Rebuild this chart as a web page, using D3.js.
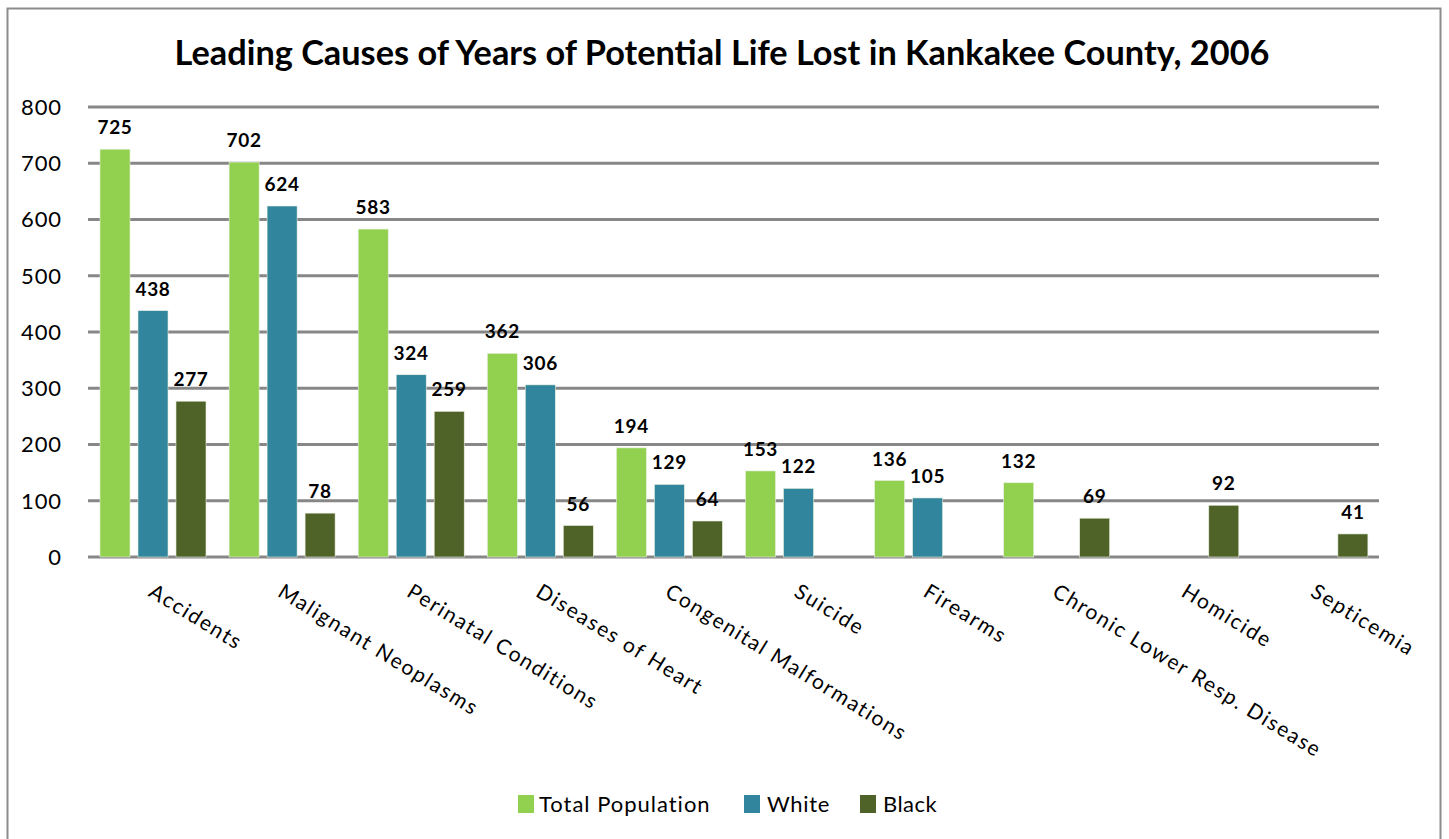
<!DOCTYPE html>
<html><head><meta charset="utf-8">
<script src="https://cdn.jsdelivr.net/npm/d3@7"></script>
<style>body{margin:0;background:#fff;} svg{display:block;}</style>
</head><body>
<svg id="c" width="1449" height="839"></svg>
<script>
const categories = ["Accidents","Malignant Neoplasms","Perinatal Conditions","Diseases of Heart","Congenital Malformations","Suicide","Firearms","Chronic Lower Resp. Disease","Homicide","Septicemia"];
const seriesNames = ["Total Population","White","Black"];
const totalValues = [725,702,583,362,194,153,136,132,null,null];
const whiteValues = [438,624,324,306,129,122,105,null,null,null];
const blackValues = [277,78,259,56,64,null,null,69,92,41];
const yTicks = [0,100,200,300,400,500,600,700,800];
const colors = ["#92D050","#31859C","#4F6228"];
const title = "Leading Causes of Years of Potential Life Lost in Kankakee County, 2006";

(function(){
const font = "Lato, 'Open Sans', sans-serif";
const svg = d3.select("#c");
svg.append("rect").attr("x",7.5).attr("y",8.5).attr("width",1433).attr("height",840).attr("fill","#fff").attr("stroke","#8c8c8c").attr("stroke-width",2);

const pL=88, pR=1379, pT=107, pB=557;
const x = d3.scaleBand().domain(categories).range([pL,pR]).paddingInner(0).paddingOuter(0);
const y = d3.scaleLinear().domain([0,800]).range([pB,pT]);
const sub = d3.scaleBand().domain(seriesNames).range([12,118]).paddingInner(0.21).paddingOuter(0);

const t = svg.append("text").attr("x",722).attr("y",65).attr("text-anchor","middle")
  .attr("font-family",font).attr("font-weight","bold").attr("font-size",30).attr("fill","#000").text(title);
const tl = t.node().getComputedTextLength();
if (tl>0) t.attr("font-size", 30*1095/tl);

svg.append("g").selectAll("line").data(yTicks).join("line")
  .attr("x1",pL).attr("x2",pR).attr("y1",d=>y(d)).attr("y2",d=>y(d))
  .attr("stroke","#878787").attr("stroke-width",3);
svg.append("g").selectAll("text").data(yTicks).join("text")
  .attr("x",62).attr("y",d=>y(d)).attr("dy","0.36em").attr("text-anchor","end")
  .attr("font-family",font).attr("font-size",22).attr("letter-spacing",0.9).attr("fill","#000").text(d=>d);

const series = [totalValues, whiteValues, blackValues];
series.forEach((vals,si)=>{
  const g = svg.append("g");
  const data = categories.map((c,i)=>({c,v:vals[i]})).filter(d=>d.v!=null);
  g.selectAll("rect").data(data).join("rect")
    .attr("x",d=>x(d.c)+sub(seriesNames[si])).attr("width",sub.bandwidth())
    .attr("y",d=>y(d.v)).attr("height",d=>y(0)-y(d.v)).attr("fill",colors[si])
    .attr("stroke","#e8f0e0").attr("stroke-width",0.6);
  g.selectAll("text").data(data).join("text")
    .attr("x",d=>x(d.c)+sub(seriesNames[si])+sub.bandwidth()/2).attr("y",d=>y(d.v)-15)
    .attr("text-anchor","middle").attr("font-family",font).attr("font-weight","bold")
    .attr("font-size",19).attr("letter-spacing",0.7).attr("fill","#000").text(d=>d.v);
});

svg.append("g").selectAll("text").data(categories).join("text")
  .attr("transform",d=>`translate(${x(d)+x.bandwidth()/2+3},${pB+25}) rotate(31.5)`)
  .attr("dy","0.75em").attr("font-family",font).attr("font-size",21).attr("letter-spacing",1.7).attr("fill","#000").text(d=>d);

const legX=[518,744,860], legTx=[539,767,883], legW=[172,63,54];
const lg = svg.append("g");
seriesNames.forEach((s,i)=>{
  lg.append("rect").attr("x",legX[i]).attr("y",795).attr("width",16).attr("height",18).attr("fill",colors[i]);
  const tt = lg.append("text").attr("x",legTx[i]).attr("y",804).attr("dy","0.36em").attr("font-family",font).attr("font-size",22).attr("fill","#000").text(s);
  const w = tt.node().getComputedTextLength();
  if (w>0) tt.attr("letter-spacing", (legW[i]-w)/s.length);
});
})();
</script>
</body></html>
